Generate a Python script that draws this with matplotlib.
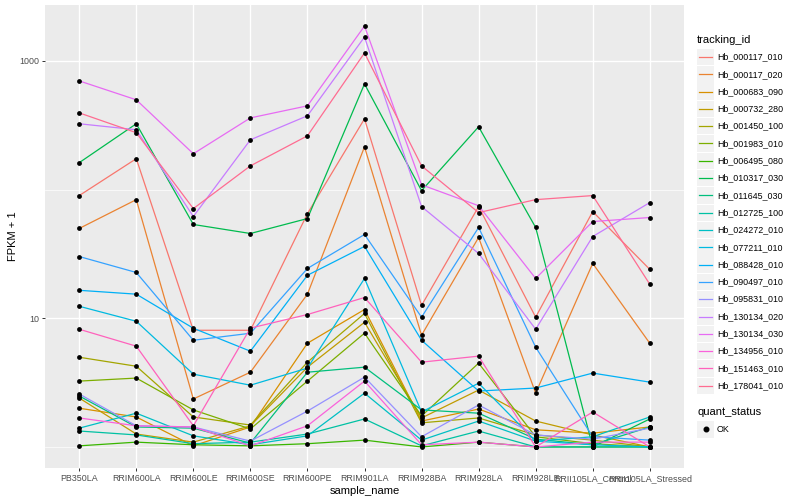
import numpy as np
import matplotlib.pyplot as plt
from matplotlib.lines import Line2D
from matplotlib.patches import Rectangle
from matplotlib.ticker import FixedLocator, NullFormatter

plt.rcParams["font.family"] = ["Liberation Sans", "DejaVu Sans"]

samples = ["PB350LA", "RRIM600LA", "RRIM600LE", "RRIM600SE", "RRIM600PE", "RRIM901LA",
           "RRIM928BA", "RRIM928LA", "RRIM928LE", "RRII105LA_Control", "RRII105LA_Stressed"]

tracking_ids = ["Hb_000117_010", "Hb_000117_020", "Hb_000683_090", "Hb_000732_280",
                "Hb_001450_100", "Hb_001983_010", "Hb_006495_080", "Hb_010317_030",
                "Hb_011645_030", "Hb_012725_100", "Hb_024272_010", "Hb_077211_010",
                "Hb_088428_010", "Hb_090497_010", "Hb_095831_010", "Hb_130134_020",
                "Hb_130134_030", "Hb_134956_010", "Hb_151463_010", "Hb_178041_010"]

# ggplot default hue palette, 20 levels
colors = ["#F8766D", "#EA8331", "#D89000", "#C09B00", "#A3A500", "#7CAE00", "#39B600",
          "#00BB4E", "#00BF7D", "#00C1A3", "#00BFC4", "#00BAE0", "#00B0F6", "#35A2FF",
          "#9590FF", "#C77CFF", "#E76BF3", "#FA62DB", "#FF62BC", "#FF6C91"]

# FPKM + 1 per sample
hb_000117_010 = [89.9, 174, 8.07, 8.07, 65.1, 355, 12.6, 73.8, 10.2, 67.5, 24.0]
hb_000117_020 = [49.9, 83.6, 2.36, 3.81, 15.4, 215, 7.39, 42.5, 2.62, 26.7, 6.40]
hb_000683_090 = [2.00, 1.71, 1.02, 1.43, 6.40, 11.7, 1.59, 1.97, 1.36, 1.28, 1.43]
hb_000732_280 = [2.40, 1.26, 1.09, 1.46, 4.17, 9.31, 1.68, 2.77, 1.59, 1.24, 1.00]
hb_001450_100 = [4.98, 4.24, 1.71, 1.48, 4.56, 10.9, 1.54, 1.68, 1.24, 1.13, 1.00]
hb_001983_010 = [3.25, 3.43, 1.94, 1.38, 3.25, 7.66, 1.74, 4.48, 1.20, 1.06, 1.00]
hb_006495_080 = [1.02, 1.09, 1.04, 1.02, 1.06, 1.13, 1.00, 1.09, 1.00, 1.00, 1.00]
hb_010317_030 = [162, 325, 53.6, 45.6, 59.6, 663, 98.2, 308, 50.8, 1.00, 1.65]
hb_011645_030 = [2.49, 1.43, 1.40, 1.07, 3.81, 4.17, 1.94, 1.83, 1.15, 1.04, 1.43]
hb_012725_100 = [1.33, 1.24, 1.06, 1.09, 1.26, 1.65, 1.02, 1.33, 1.00, 1.00, 1.00]
hb_024272_010 = [1.40, 1.83, 1.22, 1.04, 1.22, 2.62, 1.13, 1.59, 1.11, 1.20, 1.71]
hb_077211_010 = [12.4, 9.48, 3.68, 3.02, 4.10, 20.4, 1.87, 3.13, 1.11, 1.04, 1.00]
hb_088428_010 = [16.5, 15.4, 8.37, 5.55, 21.6, 36.2, 6.75, 2.72, 2.87, 3.75, 3.19]
hb_090497_010 = [30.2, 22.7, 6.75, 7.65, 24.4, 44.8, 10.2, 50.8, 5.96, 1.20, 1.13]
hb_095831_010 = [2.58, 1.46, 1.43, 1.11, 1.90, 3.49, 1.20, 2.12, 1.24, 1.15, 1.40]
hb_130134_020 = [325, 292, 61.8, 244, 375, 1535, 73.8, 31.9, 8.22, 43.2, 79.3]
hb_130134_030 = [700, 499, 190, 361, 448, 1868, 109, 75.0, 20.4, 56.5, 60.7]
hb_134956_010 = [1.68, 1.46, 1.43, 1.02, 1.46, 3.25, 1.04, 1.09, 1.00, 1.09, 1.09]
hb_151463_010 = [8.22, 6.07, 1.46, 8.39, 10.7, 14.5, 4.56, 5.08, 1.00, 1.87, 1.00]
hb_178041_010 = [395, 277, 71.2, 153, 262, 1154, 153, 66.3, 83.6, 89.9, 18.4]

series = [hb_000117_010, hb_000117_020, hb_000683_090, hb_000732_280, hb_001450_100,
          hb_001983_010, hb_006495_080, hb_010317_030, hb_011645_030, hb_012725_100,
          hb_024272_010, hb_077211_010, hb_088428_010, hb_090497_010, hb_095831_010,
          hb_130134_020, hb_130134_030, hb_134956_010, hb_151463_010, hb_178041_010]

W, H = 800, 500
def fx(px):
    return px / W
def fy(py):
    return 1 - py / H

fig = plt.figure(figsize=(8, 5), dpi=100)
ax = fig.add_axes([fx(45), fy(468), fx(684) - fx(45), fy(5) - fy(468)])
ax.set_facecolor("#EBEBEB")
for s in ax.spines.values():
    s.set_visible(False)

x = np.arange(len(samples))
for vals, col in zip(series, colors):
    ax.plot(x, vals, color=col, lw=0.9, zorder=2)
for vals in series:
    ax.scatter(x, vals, s=12, color="black", linewidths=0, zorder=3)

ax.set_yscale("log")
logs = np.log10(np.concatenate(series))
pad = 0.05 * (logs.max() - logs.min())
ax.set_ylim(10 ** (logs.min() - pad), 10 ** (logs.max() + pad))
ax.set_xlim(-0.6, len(samples) - 0.4)

ax.yaxis.set_major_locator(FixedLocator([10, 1000]))
ax.yaxis.set_minor_locator(FixedLocator([1, 100, 10000]))
ax.yaxis.set_minor_formatter(NullFormatter())
ax.set_yticklabels(["10", "1000"])
ax.set_xticks(x)
ax.set_xticklabels(samples)

ax.tick_params(which="major", length=2.2, width=0.7, color="#333333",
               labelsize=6.4, labelcolor="#4D4D4D", pad=2)
ax.tick_params(which="minor", length=0)
ax.grid(which="major", color="white", lw=1.0)
ax.grid(which="minor", axis="y", color="white", lw=0.5)
ax.set_axisbelow(True)

ax.set_xlabel("sample_name", fontsize=8, labelpad=2)
ax.set_ylabel("FPKM + 1", fontsize=8, labelpad=1)

# legend, drawn by hand in ggplot style
fig.text(fx(697), fy(40), "tracking_id", fontsize=8, va="center", ha="left")
step = 17.3
for i, (tid, col) in enumerate(zip(tracking_ids, colors)):
    yc = 57 + i * step
    fig.add_artist(Rectangle((fx(697), fy(yc + 8.2)), fx(17), 16.4 / H,
                             transform=fig.transFigure, facecolor="#F2F2F2", edgecolor="none"))
    fig.add_artist(Line2D([fx(699), fx(712)], [fy(yc), fy(yc)], color=col, lw=0.9,
                          transform=fig.transFigure))
    fig.text(fx(717), fy(yc), tid, fontsize=6.4, va="center", ha="left")

fig.text(fx(697), fy(412), "quant_status", fontsize=8, va="center", ha="left")
fig.add_artist(Rectangle((fx(697), fy(437.5)), fx(17), 16.4 / H,
                         transform=fig.transFigure, facecolor="#F2F2F2", edgecolor="none"))
fig.add_artist(Line2D([fx(705.5)], [fy(429)], marker="o", markersize=3.3, color="black",
                      lw=0, transform=fig.transFigure))
fig.text(fx(717), fy(429), "OK", fontsize=6.4, va="center", ha="left")

fig.savefig("out.png", dpi=100)
